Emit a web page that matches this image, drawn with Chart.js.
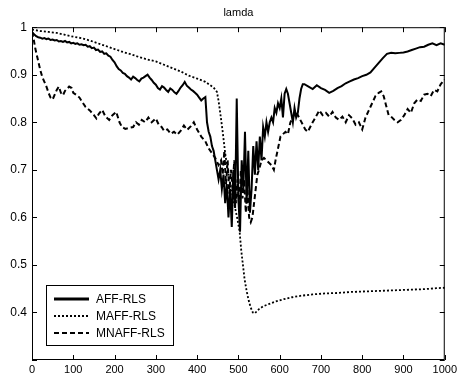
<!DOCTYPE html>
<html>
<head>
<meta charset="utf-8">
<script src="https://cdn.jsdelivr.net/npm/chart.js@4"></script>
<style>
  body { margin: 0; background: #fff; overflow: hidden; }
  #wrap { width: 460px; height: 380px; }
</style>
</head>
<body>
<div id="wrap"><canvas id="lamda" width="460" height="380"></canvas></div>
<script>
const titleText = 'lamda';
const seriesNames = ['AFF-RLS', 'MAFF-RLS', 'MNAFF-RLS'];

const affX = [0,5,10,15,20,25,30,35,40,45,
  50,55,60,65,70,75,80,85,90,95,
  100,105,110,115,120,125,130,135,140,145,
  150,155,160,165,170,175,180,185,190,195,
  200,205,210,215,220,225,230,235,240,245,
  250,255,260,265,270,275,280,285,290,295,
  300,305,310,315,320,325,330,335,340,345,
  350,355,360,365,370,375,380,385,390,395,
  400,405,410,415,420,424,428,432,436,440,
  444,448,452,456,460,464,468,472,476,480,
  484,488,492,496,500,504,508,512,516,520,
  524,528,532,536,540,544,548,552,556,560,
  564,568,572,576,580,584,588,592,596,600,
  604,608,612,616,620,624,628,632,636,640,
  644,648,652,656,660,670,680,690,700,710,
  720,730,740,750,760,770,780,790,800,810,
  820,830,840,850,860,870,880,890,900,910,
  920,930,940,950,960,970,980,990,1000];
const affY = [.99,.985,.981,.979,.978,.976,.977,.975,.976,.973,
  .974,.972,.973,.970,.971,.969,.971,.968,.969,.966,
  .967,.965,.966,.963,.964,.962,.963,.959,.960,.956,
  .957,.952,.953,.948,.949,.944,.945,.940,.938,.931,
  .926,.918,.912,.909,.904,.902,.897,.894,.890,.896,
  .893,.889,.886,.892,.894,.897,.900,.894,.889,.883,
  .879,.872,.869,.876,.873,.868,.864,.871,.868,.863,
  .860,.866,.873,.878,.885,.877,.873,.869,.866,.862,
  .858,.852,.846,.850,.853,.80,.78,.77,.75,.74,
  .72,.70,.68,.70,.66,.69,.63,.67,.60,.66,
  .58,.70,.62,.85,.64,.57,.72,.66,.78,.63,
  .74,.61,.66,.75,.69,.76,.70,.77,.72,.79,
  .77,.80,.78,.80,.81,.80,.83,.82,.84,.83,
  .85,.81,.86,.87,.86,.84,.82,.80,.83,.81,
  .82,.85,.87,.88,.88,.875,.87,.878,.872,.868,
  .862,.866,.872,.876,.882,.886,.890,.893,.897,.900,
  .905,.915,.925,.935,.944,.946,.945,.946,.947,.949,
  .952,.955,.958,.959,.963,.966,.962,.966,.963];

const maffX = [0,20,40,60,80,100,120,140,160,180,
  200,220,240,260,280,300,320,340,360,380,
  400,420,440,448,452,456,462,468,474,480,
  486,492,498,503,507,511,515,520,525,530,
  535,540,545,550,560,575,590,610,630,650,
  680,710,740,770,800,830,860,890,920,950,
  980,1000];
const maffY = [.995,.992,.99,.988,.984,.980,.977,.972,.966,.960,
  .954,.948,.943,.937,.932,.928,.921,.914,.907,.898,
  .892,.885,.873,.864,.845,.82,.78,.735,.70,.67,
  .645,.62,.595,.57,.53,.50,.47,.445,.425,.41,
  .40,.398,.403,.407,.413,.418,.423,.428,.432,.435,
  .438,.440,.441,.443,.444,.445,.446,.447,.448,.449,
  .451,.452];

const mnaffX = [0,4,8,12,16,20,25,30,35,40,
  45,50,55,60,65,70,75,80,90,96,
  100,110,115,120,130,140,150,156,162,170,
  178,187,195,204,212,218,226,235,245,252,
  259,266,274,282,290,300,307,314,320,328,
  336,344,352,360,368,376,385,392,400,410,
  420,428,436,444,452,458,462,466,470,474,
  478,482,486,490,494,498,502,506,510,514,
  518,522,526,530,534,538,542,546,550,556,
  562,568,574,580,586,590,596,602,608,614,
  620,626,632,638,644,650,656,662,668,674,
  680,688,696,704,712,720,728,736,744,752,
  760,768,776,784,792,800,808,816,824,832,
  840,846,852,858,864,870,878,886,894,902,
  910,918,926,934,942,950,958,966,974,982,
  990,1000];
const mnaffY = [.99,.975,.955,.94,.925,.91,.895,.885,.875,.862,
  .852,.848,.858,.868,.875,.862,.857,.866,.875,.872,
  .862,.856,.852,.845,.832,.825,.815,.808,.818,.826,
  .812,.805,.815,.822,.80,.79,.786,.788,.79,.80,
  .795,.805,.80,.81,.80,.808,.795,.79,.782,.785,
  .776,.78,.774,.782,.793,.784,.792,.80,.785,.77,
  .76,.745,.735,.725,.71,.72,.69,.74,.67,.72,
  .65,.70,.66,.72,.63,.68,.62,.70,.64,.68,
  .61,.66,.60,.59,.60,.63,.66,.69,.70,.72,
  .725,.72,.715,.71,.70,.72,.745,.77,.775,.78,
  .775,.80,.81,.822,.815,.805,.795,.785,.78,.79,
  .80,.812,.825,.815,.82,.812,.822,.81,.805,.812,
  .80,.815,.808,.795,.80,.785,.81,.825,.84,.855,
  .862,.865,.855,.835,.815,.812,.805,.80,.805,.815,
  .828,.82,.84,.848,.845,.858,.86,.855,.868,.865,
  .88,.89];

const fontFamily = '"Liberation Sans", Arial, sans-serif';
const lineStyles = [
  { width: 2, dash: [] },
  { width: 1.8, dash: [2, 2] },
  { width: 2, dash: [5, 3] }
];

function pts(xs, ys) {
  return xs.map((x, i) => ({ x: x, y: ys[i] }));
}

// matlab style box with inward ticks
const boxPlugin = {
  id: 'box',
  afterDatasetsDraw(chart) {
    const ctx = chart.ctx;
    const a = chart.chartArea;
    const xs = chart.scales.x, ys = chart.scales.y;
    ctx.save();
    ctx.strokeStyle = '#000';
    ctx.lineWidth = 1;
    ctx.setLineDash([]);
    ctx.strokeRect(a.left + 0.5, a.top + 0.5, a.right - a.left - 1, a.bottom - a.top - 1);
    ctx.beginPath();
    xs.ticks.forEach(t => {
      const px = Math.round(xs.getPixelForValue(t.value)) + 0.5;
      ctx.moveTo(px, a.bottom); ctx.lineTo(px, a.bottom - 5);
      ctx.moveTo(px, a.top); ctx.lineTo(px, a.top + 5);
    });
    ys.ticks.forEach(t => {
      const py = Math.round(ys.getPixelForValue(t.value)) + 0.5;
      ctx.moveTo(a.left, py); ctx.lineTo(a.left + 5, py);
      ctx.moveTo(a.right, py); ctx.lineTo(a.right - 5, py);
    });
    ctx.stroke();

    // legend box inside the plot
    const lx = 46, ly = 285, lw = 127, lh = 60;
    ctx.fillStyle = '#fff';
    ctx.fillRect(lx, ly, lw, lh);
    ctx.strokeRect(lx + 0.5, ly + 0.5, lw, lh);
    ctx.font = '12px ' + fontFamily;
    ctx.textBaseline = 'middle';
    seriesNames.forEach((name, i) => {
      const y = ly + 14 + i * 17;
      ctx.beginPath();
      ctx.lineWidth = i === 0 ? 3 : 2;
      ctx.setLineDash(lineStyles[i].dash);
      ctx.moveTo(54, y); ctx.lineTo(89, y);
      ctx.stroke();
      ctx.setLineDash([]);
      ctx.fillStyle = '#000';
      ctx.fillText(name, 96, y + 1);
    });
    ctx.restore();
  }
};

const allSeries = [pts(affX, affY), pts(maffX, maffY), pts(mnaffX, mnaffY)];

new Chart(document.getElementById('lamda'), {
  type: 'line',
  data: {
    datasets: allSeries.map((d, i) => ({
      label: seriesNames[i],
      data: d,
      borderColor: '#000',
      borderWidth: lineStyles[i].width,
      borderDash: lineStyles[i].dash,
      pointRadius: 0,
      tension: 0,
      fill: false
    }))
  },
  options: {
    responsive: false,
    animation: false,
    events: [],
    layout: { padding: { left: 0, top: 0, bottom: 0, right: -3 } },
    plugins: {
      legend: { display: false },
      tooltip: { enabled: false },
      title: {
        display: true,
        text: titleText,
        color: '#000',
        fullSize: false,
        font: { family: fontFamily, size: 11, weight: 'normal' },
        padding: { top: 6, bottom: 8 }
      }
    },
    scales: {
      x: {
        type: 'linear',
        min: 0,
        max: 1000,
        grid: { display: false, drawTicks: false },
        border: { display: false },
        ticks: {
          stepSize: 100,
          color: '#000',
          padding: 3,
          maxRotation: 0,
          font: { family: fontFamily, size: 11 },
          callback: (v) => String(v)
        },
        afterFit(scale) { scale.height = 20; }
      },
      y: {
        min: 0.3,
        max: 1,
        grid: { display: false, drawTicks: false },
        border: { display: false },
        ticks: {
          stepSize: 0.1,
          color: '#000',
          padding: 5,
          font: { family: fontFamily, size: 12 },
          callback: (v) => {
            const r = Math.round(v * 10) / 10;
            if (r === 0.3) return '';
            return r === 1 ? '1' : r.toFixed(1);
          }
        },
        afterFit(scale) { scale.width = 32; }
      }
    }
  },
  plugins: [boxPlugin]
});
</script>
</body>
</html>
